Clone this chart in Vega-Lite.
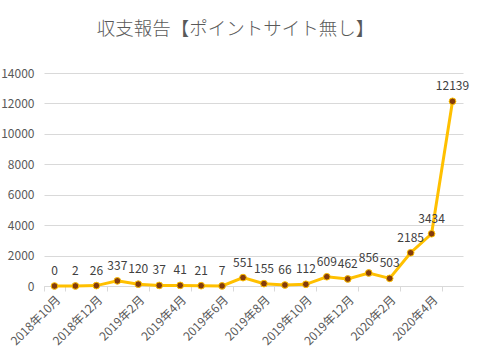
{
  "$schema": "https://vega.github.io/schema/vega-lite/v6.json",
  "width": 419,
  "height": 213,
  "autosize": "none",
  "padding": {"left": 44, "top": 73, "right": 18, "bottom": 76},
  "background": "white",
  "title": {
    "text": "収支報告【ポイントサイト無し】",
    "font": "Noto Sans CJK JP",
    "fontSize": 18.5,
    "fontWeight": 300,
    "color": "#595959",
    "anchor": "middle",
    "dx": -18,
    "offset": 29
  },
  "data": {
    "values": [
      {"month": "2018年10月", "value": 0},
      {"month": "2018年11月", "value": 2},
      {"month": "2018年12月", "value": 26},
      {"month": "2019年1月", "value": 337},
      {"month": "2019年2月", "value": 120},
      {"month": "2019年3月", "value": 37},
      {"month": "2019年4月", "value": 41},
      {"month": "2019年5月", "value": 21},
      {"month": "2019年6月", "value": 7},
      {"month": "2019年7月", "value": 551},
      {"month": "2019年8月", "value": 155},
      {"month": "2019年9月", "value": 66},
      {"month": "2019年10月", "value": 112},
      {"month": "2019年11月", "value": 609},
      {"month": "2019年12月", "value": 462},
      {"month": "2020年1月", "value": 856},
      {"month": "2020年2月", "value": 503},
      {"month": "2020年3月", "value": 2185},
      {"month": "2020年4月", "value": 3434},
      {"month": "2020年5月", "value": 12139}
    ]
  },
  "encoding": {
    "x": {
      "field": "month",
      "type": "ordinal",
      "sort": null,
      "scale": {"type": "band", "paddingInner": 0, "paddingOuter": 0},
      "axis": {
        "title": null,
        "values": ["2018年10月", "2018年12月", "2019年2月", "2019年4月", "2019年6月", "2019年8月", "2019年10月", "2019年12月", "2020年2月", "2020年4月"],
        "labelAngle": -45,
        "labelFont": "Noto Sans CJK JP",
        "labelFontSize": 12,
        "labelColor": "#595959",
        "labelPadding": 3,
        "tickBand": "extent",
        "tickExtra": true,
        "tickColor": "#D9D9D9",
        "tickSize": 5,
        "domainColor": "#D9D9D9",
        "grid": false
      }
    },
    "y": {
      "field": "value",
      "type": "quantitative",
      "scale": {"domain": [0, 14000]},
      "axis": {
        "title": null,
        "values": [0, 2000, 4000, 6000, 8000, 10000, 12000, 14000],
        "format": "d",
        "domain": false,
        "ticks": false,
        "labelPadding": 10,
        "labelFont": "Noto Sans CJK JP",
        "labelFontSize": 12,
        "labelColor": "#595959",
        "gridColor": "#D9D9D9",
        "gridWidth": 1
      }
    }
  },
  "layer": [
    {
      "mark": {"type": "line", "color": "#FFC000", "strokeWidth": 3}
    },
    {
      "mark": {"type": "point", "filled": true, "fill": "#843C0C", "stroke": "#FFC000", "strokeWidth": 1, "size": 45, "opacity": 1}
    },
    {
      "mark": {"type": "text", "dy": -15, "font": "Noto Sans CJK JP", "fontSize": 12, "color": "#404040"},
      "encoding": {"text": {"field": "value", "type": "quantitative", "format": "d"}}
    }
  ],
  "config": {"view": {"stroke": null}}
}
